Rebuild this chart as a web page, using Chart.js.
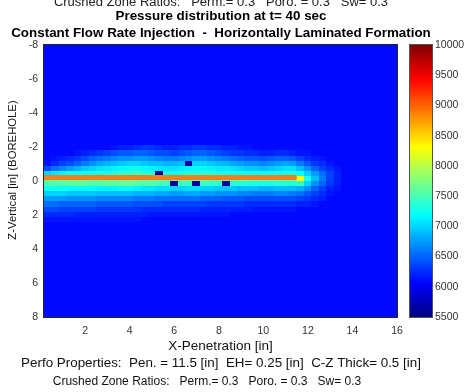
<!DOCTYPE html>
<html><head><meta charset="utf-8">
<script src="https://cdn.jsdelivr.net/npm/chart.js@4.4.1/dist/chart.umd.min.js"></script>
<style>
html,body{margin:0;padding:0;background:#fff;overflow:hidden;}
#wrap{position:relative;width:468px;height:392px;overflow:hidden;}
.note{position:absolute;left:0;text-align:center;font-family:"Liberation Sans",Arial,sans-serif;white-space:pre;}
#cut{width:442px;top:-5.5px;font-size:13px;line-height:13px;color:#222;}
#foot2{width:414px;top:374px;font-size:12px;line-height:14px;color:#111;}
canvas{position:absolute;left:0;top:0;}
</style></head><body>
<div id="wrap"><canvas id="c" width="468" height="392"></canvas>
<div class="note" id="cut"></div>
<div class="note" id="foot2"></div></div>
<script>
// ---------- text ----------
const TITLE_LINES = ['Pressure distribution at t= 40 sec', 'Constant Flow Rate Injection  -  Horizontally Laminated Formation'];
const PERFO_LINE = 'Perfo Properties:  Pen. = 11.5 [in]  EH= 0.25 [in]  C-Z Thick= 0.5 [in]';
const CRUSHED_LINE = 'Crushed Zone Ratios:   Perm.= 0.3   Poro. = 0.3   Sw= 0.3';
const X_LABEL = 'X-Penetration [in]';
const Y_LABEL = '       Z-Vertical [in] (BOREHOLE)';
// ---------- ticks / ranges ----------
const X_TICKS = [2, 4, 6, 8, 10, 12, 14, 16];
const Z_TICKS = [-8, -6, -4, -2, 0, 2, 4, 6, 8];
const CB_TICKS = [5500, 6000, 6500, 7000, 7500, 8000, 8500, 9000, 9500, 10000];
const X_RANGE = [0.15, 16];
const Z_RANGE = [-8, 8];
const P_RANGE = [5500, 10000];
// ---------- pressure field ----------
const P_BACKGROUND = 6100;
const CELL_X = [0.32,0.65,0.98,1.32,1.65,1.98,2.32,2.65,2.98,3.32,3.65,3.98,4.32,4.65,4.98,5.32,5.65,5.98,6.32,6.65,6.98,7.32,7.65,7.98,8.32,8.65,8.98,9.32,9.65,9.98,10.32,10.65,10.98,11.32,11.65,11.98,12.32,12.65,12.98,13.32];
const CELL_Z = [-1.95,-1.65,-1.35,-1.05,-0.75,-0.45,-0.15,0.15,0.45,0.75,1.05,1.35,1.65,1.95,2.25];
const P_ROWS = [
[6100,6100,6100,6100,6100,6100,6100,6100,6100,6150,6200,6200,6250,6300,6300,6250,6200,6200,6250,6250,6300,6300,6250,6250,6200,6200,6150,6150,6100,6100,6100,6100,6100,6100,6100,6100,6100,6100,6100,6100],
[6100,6100,6100,6100,6150,6200,6250,6300,6350,6400,6450,6450,6500,6500,6450,6400,6400,6350,6400,6450,6500,6500,6450,6400,6350,6300,6300,6250,6250,6200,6200,6250,6250,6200,6150,6150,6100,6100,6100,6100],
[6100,6150,6200,6250,6300,6400,6500,6550,6600,6650,6700,6700,6750,6750,6700,6650,6600,6600,6650,6700,6750,6750,6700,6650,6600,6550,6500,6450,6450,6400,6450,6500,6500,6450,6350,6250,6200,6150,6100,6100],
[6150,6250,6350,6400,6500,6600,6700,6800,6850,6900,6950,7000,7000,6950,6900,6900,6850,6850,6900,5650,7000,7000,6950,6900,6850,6800,6750,6700,6700,6650,6700,6750,6800,6750,6600,6450,6300,6250,6150,6100],
[6400,6550,6650,6750,6850,6950,7000,7050,7100,7150,7200,7250,7250,7200,7150,7100,7050,7050,7100,7150,7200,7200,7150,7100,7100,7050,7000,6950,6950,6900,6950,7000,7050,7050,6900,6700,6500,6350,6250,6150],
[7000,7100,7150,7200,7200,7250,7250,7300,7300,7350,7400,7400,7450,7400,7350,5650,7250,7250,7300,7350,7350,7400,7350,7300,7300,7250,7250,7200,7200,7200,7200,7250,7300,7300,7250,7000,6750,6550,6350,6200],
[7700,7700,7700,7700,7700,7700,7700,7700,7700,7700,7700,7700,7700,7700,7700,7700,7700,7700,7700,7700,7700,7700,7700,7700,7700,7700,7700,7700,7700,7700,7700,7700,7700,7700,8300,7300,6900,6600,6350,6200],
[7500,7550,7550,7600,7600,7600,7550,7550,7600,7600,7650,7650,7600,7550,7550,7500,7450,5650,7450,7450,5650,7450,7400,7400,5650,7350,7350,7300,7300,7300,7300,7350,7350,7350,7400,7000,6700,6500,6300,6200],
[7250,7250,7250,7200,7200,7200,7200,7150,7150,7150,7200,7200,7150,7100,7100,7050,7050,7000,7000,7050,7050,7000,7000,6950,6950,6950,6900,6900,6900,6850,6850,6900,6900,6900,6850,6700,6500,6350,6200,6150],
[7000,7000,7000,6950,6950,6950,6950,6900,6900,6900,6900,6900,6850,6850,6850,6800,6800,6750,6750,6800,6800,6750,6750,6700,6700,6700,6650,6650,6600,6600,6600,6650,6650,6600,6550,6450,6350,6250,6150,6100],
[6750,6750,6750,6700,6700,6700,6700,6650,6650,6650,6650,6650,6600,6600,6600,6550,6550,6550,6550,6550,6550,6500,6500,6500,6450,6450,6450,6400,6400,6400,6400,6400,6400,6400,6350,6300,6250,6200,6100,6100],
[6550,6550,6500,6500,6500,6500,6500,6450,6450,6450,6450,6450,6400,6400,6400,6400,6350,6350,6350,6350,6350,6350,6300,6300,6300,6300,6300,6250,6250,6250,6250,6250,6250,6250,6200,6200,6150,6100,6100,6100],
[6400,6400,6350,6350,6350,6350,6350,6300,6300,6300,6300,6300,6300,6250,6250,6250,6250,6250,6250,6250,6250,6200,6200,6200,6200,6200,6200,6200,6150,6150,6150,6150,6150,6150,6100,6100,6100,6100,6100,6100],
[6250,6250,6250,6250,6200,6200,6200,6200,6200,6200,6200,6200,6200,6200,6150,6150,6150,6150,6150,6150,6150,6150,6150,6150,6150,6100,6100,6100,6100,6100,6100,6100,6100,6100,6100,6100,6100,6100,6100,6100],
[6150,6150,6150,6150,6150,6150,6150,6150,6150,6150,6150,6150,6150,6100,6100,6100,6100,6100,6100,6100,6100,6100,6100,6100,6100,6100,6100,6100,6100,6100,6100,6100,6100,6100,6100,6100,6100,6100,6100,6100]
];
// ---------- perforation tunnel ----------
const PERF_X = [0.15, 11.5];
const PERF_Z = [-0.2, -0.2];

// ---------- sizes / styles ----------
const CB_GAP = 13, CB_WIDTH = 22;
const FONT = '"Liberation Sans", Arial, Helvetica, sans-serif';

document.getElementById('cut').textContent = CRUSHED_LINE;
document.getElementById('foot2').textContent = CRUSHED_LINE;

function jet(v) {
  const t = Math.min(1, Math.max(0, (v - P_RANGE[0]) / (P_RANGE[1] - P_RANGE[0])));
  const c = u => Math.round(255 * Math.min(1, Math.max(0, u)));
  return `rgb(${c(1.5 - Math.abs(4 * t - 3))},${c(1.5 - Math.abs(4 * t - 2))},${c(1.5 - Math.abs(4 * t - 1))})`;
}
// cell edges = midpoints between neighbouring cell centres
function edges(c) {
  const e = [c[0] - (c[1] - c[0]) / 2];
  for (let i = 1; i < c.length; i++) e.push((c[i - 1] + c[i]) / 2);
  e.push(c[c.length - 1] + (c[c.length - 1] - c[c.length - 2]) / 2);
  return e;
}

const heatmapPlugin = {
  id: 'heatmap',
  beforeDatasetsDraw(chart) {
    const {ctx, chartArea: a, scales: {x, y}} = chart;
    const ex = edges(CELL_X).map(v => Math.round(x.getPixelForValue(v)));
    const ez = edges(CELL_Z).map(v => Math.round(y.getPixelForValue(v)));
    ctx.save();
    ctx.beginPath(); ctx.rect(a.left, a.top, a.width, a.height); ctx.clip();
    ctx.fillStyle = jet(P_BACKGROUND);
    ctx.fillRect(a.left, a.top, a.width, a.height);
    CELL_Z.forEach((zc, i) => {
      CELL_X.forEach((xc, j) => {
        ctx.fillStyle = jet(P_ROWS[i][j]);
        ctx.fillRect(ex[j], Math.min(ez[i], ez[i + 1]), ex[j + 1] - ex[j], Math.abs(ez[i + 1] - ez[i]));
      });
    });
    ctx.restore();
  },
  afterDatasetsDraw(chart) {
    const {ctx, chartArea: a} = chart;
    ctx.save();
    ctx.strokeStyle = '#262626';
    ctx.lineWidth = 1;
    ctx.strokeRect(Math.round(a.left) - 0.5, Math.round(a.top) - 0.5, Math.round(a.width) + 1, Math.round(a.height) + 1);
    ctx.restore();
  }
};

const colorbarPlugin = {
  id: 'colorbar',
  afterDraw(chart) {
    const s = chart.scales.cb, ctx = chart.ctx;
    const left = Math.round(s.left + CB_GAP);
    const n = 128;
    ctx.save();
    for (let k = 0; k < n; k++) {
      const v0 = P_RANGE[0] + (P_RANGE[1] - P_RANGE[0]) * k / n;
      const v1 = P_RANGE[0] + (P_RANGE[1] - P_RANGE[0]) * (k + 1) / n;
      const ya = Math.round(s.getPixelForValue(v0)), yb = Math.round(s.getPixelForValue(v1));
      ctx.fillStyle = jet((v0 + v1) / 2);
      ctx.fillRect(left, yb, CB_WIDTH, ya - yb);
    }
    const top = Math.round(s.getPixelForValue(P_RANGE[1])), bot = Math.round(s.getPixelForValue(P_RANGE[0]));
    ctx.strokeStyle = '#555';
    ctx.lineWidth = 1;
    ctx.strokeRect(left - 0.5, top - 0.5, CB_WIDTH + 1, bot - top + 1);
    ctx.restore();
  }
};

Chart.defaults.font.family = FONT;
Chart.defaults.color = '#333';

new Chart(document.getElementById('c'), {
  type: 'scatter',
  data: {
    datasets: [{
      type: 'line',
      data: PERF_X.map((xv, i) => ({x: xv, y: PERF_Z[i]})),
      borderColor: '#F0801E',
      borderWidth: 5,
      borderCapStyle: 'butt',
      pointRadius: 0,
      fill: false,
      xAxisID: 'x', yAxisID: 'y'
    }]
  },
  options: {
    responsive: false,
    animation: false,
    layout: {padding: {left: -26, right: 0, top: 0, bottom: 0}},
    plugins: {
      legend: {display: false},
      tooltip: {enabled: false},
      subtitle: {
        display: true, position: 'top', text: TITLE_LINES, color: '#000',
        font: {size: 13.4, weight: 'bold', lineHeight: '17px'},
        padding: {top: 8, bottom: 3}
      },
      title: {
        display: true, position: 'bottom', text: PERFO_LINE, color: '#111',
        font: {size: 13.4, weight: 'normal', lineHeight: '16px'},
        padding: {top: 1, bottom: 21}
      }
    },
    scales: {
      x: {
        type: 'linear', position: 'bottom', min: X_RANGE[0], max: X_RANGE[1],
        afterBuildTicks: s => { s.ticks = X_TICKS.map(v => ({value: v})); },
        afterFit: s => { s.height = 37; },
        grid: {display: false, drawTicks: false}, border: {display: false},
        ticks: {padding: 8, font: {size: 10.5}, color: '#333', maxRotation: 0},
        title: {display: true, text: X_LABEL, color: '#111', font: {size: 13.5, lineHeight: 1.2}, padding: {top: 0, bottom: 0}}
      },
      y: {
        type: 'linear', position: 'left', min: Z_RANGE[0], max: Z_RANGE[1], reverse: true,
        afterBuildTicks: s => { s.ticks = Z_TICKS.map(v => ({value: v})); },
        afterFit: s => { s.width = 70; },
        grid: {display: false, drawTicks: false}, border: {display: false},
        ticks: {padding: 6, font: {size: 10.5}, color: '#333'},
        title: {display: true, text: Y_LABEL, color: '#111', font: {size: 11.3, lineHeight: 1.2}, padding: {top: 32.2, bottom: 0}}
      },
      cb: {
        type: 'linear', position: 'right', min: P_RANGE[0], max: P_RANGE[1],
        afterBuildTicks: s => { s.ticks = CB_TICKS.map(v => ({value: v})); },
        afterFit: s => { s.width = 71; },
        grid: {display: false, drawTicks: false}, border: {display: false},
        ticks: {padding: 38, font: {size: 10.5}, color: '#333', callback: v => String(v)}
      }
    }
  },
  plugins: [heatmapPlugin, colorbarPlugin]
});
</script>
</body></html>
